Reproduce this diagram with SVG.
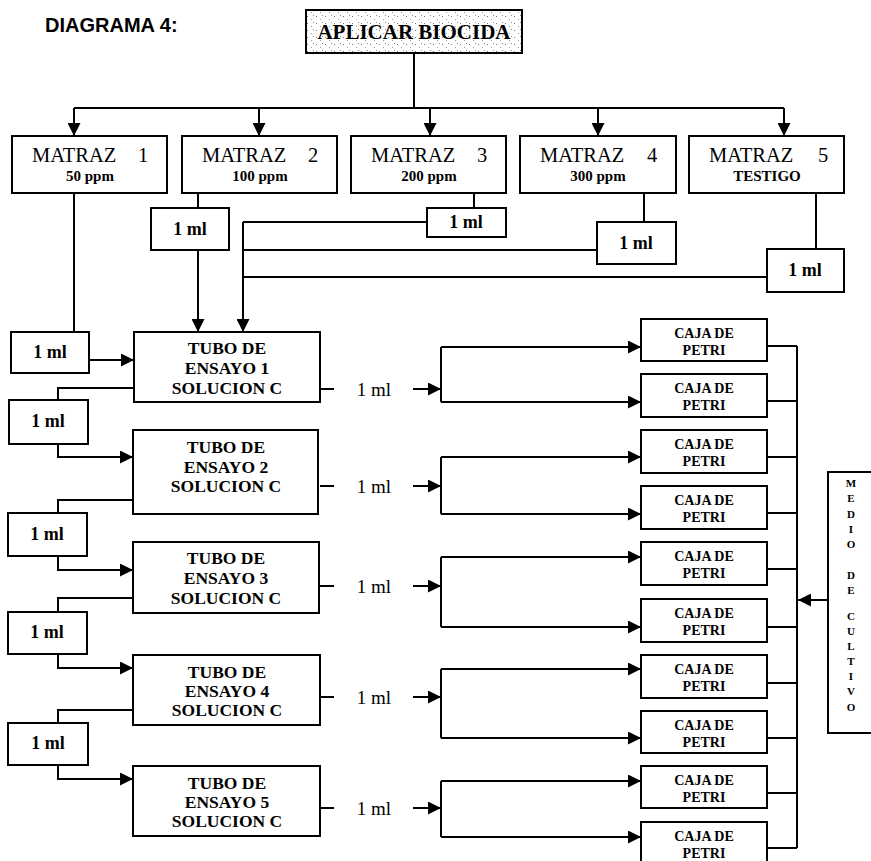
<svg xmlns="http://www.w3.org/2000/svg" width="871" height="861" viewBox="0 0 871 861">
<defs>
<style>
.bx{fill:#fff;stroke:#000;stroke-width:2}
.ln{fill:none;stroke:#000;stroke-width:2}
.t{font-family:"Liberation Serif","Times New Roman",serif;fill:#000}
.mt{font-size:20.5px}
.pp{font-size:15px;font-weight:bold;text-anchor:middle}
.tb{font-size:17.5px;font-weight:bold;text-anchor:middle}
.ml{font-size:18px;font-weight:bold;text-anchor:middle}
.mr{font-size:19px;text-anchor:middle}
.cj{font-size:14px;font-weight:bold;text-anchor:middle}
.vl{font-size:11px;font-weight:bold;text-anchor:middle}
</style>
<marker id="ah" viewBox="0 0 10 10" refX="10" refY="5" markerWidth="6.5" markerHeight="6.5" orient="auto" markerUnits="strokeWidth">
<path d="M0,0 L10,5 L0,10 z" fill="#000"/>
</marker>
<pattern id="spk" width="9" height="7" patternUnits="userSpaceOnUse">
<rect width="9" height="7" fill="#fff"/>
<rect x="1" y="2" width="1" height="1" fill="#777"/>
<rect x="5" y="5" width="1" height="1" fill="#999"/>
<rect x="7" y="1" width="1" height="1" fill="#888"/>
</pattern>
</defs>
<rect width="871" height="861" fill="#fff"/>

<text class="t" x="45" y="32" style="font-family:'Liberation Sans',Arial,sans-serif;font-size:20px;font-weight:bold">DIAGRAMA 4:</text>

<g id="connectors">
<path class="ln" d="M414,53 V108 M74,108 H784"/>
<path class="ln" marker-end="url(#ah)" d="M74,108 V136"/>
<path class="ln" marker-end="url(#ah)" d="M259,108 V136"/>
<path class="ln" marker-end="url(#ah)" d="M430,108 V136"/>
<path class="ln" marker-end="url(#ah)" d="M598,108 V136"/>
<path class="ln" marker-end="url(#ah)" d="M784,108 V136"/>
<path class="ln" d="M74,193 V332"/>
<path class="ln" d="M198,193 V208"/>
<path class="ln" d="M474,193 V208"/>
<path class="ln" d="M644,193 V222"/>
<path class="ln" d="M816,193 V249"/>
<path class="ln" marker-end="url(#ah)" d="M198,250 V332"/>
<path class="ln" marker-end="url(#ah)" d="M243,222 V332"/>
<path class="ln" d="M243,222 H427 M243,250 H597 M243,277 H767"/>
<path class="ln" marker-end="url(#ah)" d="M89,360 H134"/>
<path class="ln" d="M134,388 H58 V400"/>
<path class="ln" marker-end="url(#ah)" d="M58,444 V457 H133"/>
<path class="ln" d="M133,500 H58 V513"/>
<path class="ln" marker-end="url(#ah)" d="M58,556 V570 H133"/>
<path class="ln" d="M133,598 H58 V612"/>
<path class="ln" marker-end="url(#ah)" d="M58,654 V668 H133"/>
<path class="ln" d="M133,710 H58 V723"/>
<path class="ln" marker-end="url(#ah)" d="M58,765 V779 H133"/>

<path class="ln" d="M320,389 H334"/>
<path class="ln" marker-end="url(#ah)" d="M413,389 H441"/>
<path class="ln" d="M441,347 V402"/>
<path class="ln" marker-end="url(#ah)" d="M441,347 H641"/>
<path class="ln" marker-end="url(#ah)" d="M441,402 H641"/>

<path class="ln" d="M320,486 H334"/>
<path class="ln" marker-end="url(#ah)" d="M413,486 H441"/>
<path class="ln" d="M441,457 V514"/>
<path class="ln" marker-end="url(#ah)" d="M441,457 H641"/>
<path class="ln" marker-end="url(#ah)" d="M441,514 H641"/>

<path class="ln" d="M320,586 H334"/>
<path class="ln" marker-end="url(#ah)" d="M413,586 H441"/>
<path class="ln" d="M441,557 V627"/>
<path class="ln" marker-end="url(#ah)" d="M441,557 H641"/>
<path class="ln" marker-end="url(#ah)" d="M441,627 H641"/>

<path class="ln" d="M320,697 H334"/>
<path class="ln" marker-end="url(#ah)" d="M413,697 H441"/>
<path class="ln" d="M441,669 V738"/>
<path class="ln" marker-end="url(#ah)" d="M441,669 H641"/>
<path class="ln" marker-end="url(#ah)" d="M441,738 H641"/>

<path class="ln" d="M320,808 H334"/>
<path class="ln" marker-end="url(#ah)" d="M413,808 H441"/>
<path class="ln" d="M441,781 V837"/>
<path class="ln" marker-end="url(#ah)" d="M441,781 H641"/>
<path class="ln" marker-end="url(#ah)" d="M441,837 H641"/>

<path class="ln" d="M767,346 H797 M767,401 H797 M767,457 H797 M767,513 H797 M767,569 H797 M767,627 H797 M767,683 H797 M767,738 H797 M767,793 H797 M767,848 H797 M797,346 V848"/>
<path class="ln" marker-end="url(#ah)" d="M828,600 H798"/>
</g>

<g id="aplicar">
<rect class="bx" x="306" y="10" width="216" height="43" style="fill:url(#spk)"/>
<text class="t" x="414" y="39" text-anchor="middle" style="font-size:21px;font-weight:bold">APLICAR BIOCIDA</text>
</g>

<g id="matraz1"><rect class="bx" x="12" y="136" width="155" height="57"/><text class="t mt" x="32" y="162">MATRAZ</text><text class="t mt" x="143" y="162" text-anchor="middle">1</text><text class="t pp" x="90" y="181">50 ppm</text></g>
<g id="matraz2"><rect class="bx" x="182" y="136" width="155" height="57"/><text class="t mt" x="202" y="162">MATRAZ</text><text class="t mt" x="313" y="162" text-anchor="middle">2</text><text class="t pp" x="260" y="181">100 ppm</text></g>
<g id="matraz3"><rect class="bx" x="351" y="136" width="155" height="57"/><text class="t mt" x="371" y="162">MATRAZ</text><text class="t mt" x="482" y="162" text-anchor="middle">3</text><text class="t pp" x="429" y="181">200 ppm</text></g>
<g id="matraz4"><rect class="bx" x="520" y="136" width="156" height="57"/><text class="t mt" x="540" y="162">MATRAZ</text><text class="t mt" x="652" y="162" text-anchor="middle">4</text><text class="t pp" x="598" y="181">300 ppm</text></g>
<g id="matraz5"><rect class="bx" x="689" y="136" width="155" height="57"/><text class="t mt" x="709" y="162">MATRAZ</text><text class="t mt" x="823" y="162" text-anchor="middle">5</text><text class="t pp" x="767" y="181">TESTIGO</text></g>

<g id="ml-m2"><rect class="bx" x="151" y="208" width="78" height="42"/><text class="t ml" x="190" y="235">1 ml</text></g>
<g id="ml-m3"><rect class="bx" x="427" y="208" width="79" height="29"/><text class="t ml" x="466" y="228">1 ml</text></g>
<g id="ml-m4"><rect class="bx" x="597" y="222" width="79" height="42"/><text class="t ml" x="636" y="249">1 ml</text></g>
<g id="ml-m5"><rect class="bx" x="767" y="249" width="77" height="43"/><text class="t ml" x="805" y="276">1 ml</text></g>

<g id="ml-a"><rect class="bx" x="11" y="332" width="78" height="41"/><text class="t ml" x="50" y="358">1 ml</text></g>
<g id="ml-b"><rect class="bx" x="9" y="400" width="79" height="44"/><text class="t ml" x="48" y="427">1 ml</text></g>
<g id="ml-c"><rect class="bx" x="8" y="513" width="79" height="43"/><text class="t ml" x="47" y="540">1 ml</text></g>
<g id="ml-d"><rect class="bx" x="8" y="612" width="79" height="42"/><text class="t ml" x="47" y="638">1 ml</text></g>
<g id="ml-e"><rect class="bx" x="8" y="723" width="80" height="42"/><text class="t ml" x="48" y="749">1 ml</text></g>

<g id="tubo1"><rect class="bx" x="134" y="332" width="186" height="70"/><text class="t tb" x="227" y="354">TUBO DE</text><text class="t tb" x="227" y="374">ENSAYO 1</text><text class="t tb" x="227" y="394">SOLUCION C</text></g>
<g id="tubo2"><rect class="bx" x="133" y="430" width="185" height="84"/><text class="t tb" x="226" y="453">TUBO DE</text><text class="t tb" x="226" y="473">ENSAYO 2</text><text class="t tb" x="226" y="492">SOLUCION C</text></g>
<g id="tubo3"><rect class="bx" x="133" y="542" width="186" height="71"/><text class="t tb" x="226" y="564">TUBO DE</text><text class="t tb" x="226" y="584">ENSAYO 3</text><text class="t tb" x="226" y="604">SOLUCION C</text></g>
<g id="tubo4"><rect class="bx" x="133" y="655" width="187" height="70"/><text class="t tb" x="227" y="678">TUBO DE</text><text class="t tb" x="227" y="697">ENSAYO 4</text><text class="t tb" x="227" y="716">SOLUCION C</text></g>
<g id="tubo5"><rect class="bx" x="133" y="766" width="187" height="70"/><text class="t tb" x="227" y="789">TUBO DE</text><text class="t tb" x="227" y="808">ENSAYO 5</text><text class="t tb" x="227" y="827">SOLUCION C</text></g>

<g id="ml-r">
<text class="t mr" x="374" y="396">1 ml</text>
<text class="t mr" x="374" y="493">1 ml</text>
<text class="t mr" x="374" y="593">1 ml</text>
<text class="t mr" x="374" y="704">1 ml</text>
<text class="t mr" x="374" y="815">1 ml</text>
</g>

<g id="petri1"><rect class="bx" x="641" y="319" width="126" height="42"/><text class="t cj" x="704" y="338">CAJA DE</text><text class="t cj" x="704" y="355">PETRI</text></g>
<g id="petri2"><rect class="bx" x="641" y="374" width="126" height="43"/><text class="t cj" x="704" y="393">CAJA DE</text><text class="t cj" x="704" y="410">PETRI</text></g>
<g id="petri3"><rect class="bx" x="641" y="430" width="126" height="43"/><text class="t cj" x="704" y="449">CAJA DE</text><text class="t cj" x="704" y="466">PETRI</text></g>
<g id="petri4"><rect class="bx" x="641" y="486" width="126" height="43"/><text class="t cj" x="704" y="505">CAJA DE</text><text class="t cj" x="704" y="522">PETRI</text></g>
<g id="petri5"><rect class="bx" x="641" y="542" width="126" height="43"/><text class="t cj" x="704" y="561">CAJA DE</text><text class="t cj" x="704" y="578">PETRI</text></g>
<g id="petri6"><rect class="bx" x="641" y="599" width="126" height="43"/><text class="t cj" x="704" y="618">CAJA DE</text><text class="t cj" x="704" y="635">PETRI</text></g>
<g id="petri7"><rect class="bx" x="641" y="655" width="126" height="43"/><text class="t cj" x="704" y="674">CAJA DE</text><text class="t cj" x="704" y="691">PETRI</text></g>
<g id="petri8"><rect class="bx" x="641" y="711" width="126" height="42"/><text class="t cj" x="704" y="730">CAJA DE</text><text class="t cj" x="704" y="747">PETRI</text></g>
<g id="petri9"><rect class="bx" x="641" y="766" width="126" height="42"/><text class="t cj" x="704" y="785">CAJA DE</text><text class="t cj" x="704" y="802">PETRI</text></g>
<g id="petri10"><rect class="bx" x="641" y="822" width="126" height="44"/><text class="t cj" x="704" y="841">CAJA DE</text><text class="t cj" x="704" y="858">PETRI</text></g>

<g id="medio">
<rect class="bx" x="828" y="472" width="50" height="261"/>
<text class="t vl" x="851" y="487">M</text>
<text class="t vl" x="851" y="502">E</text>
<text class="t vl" x="851" y="518">D</text>
<text class="t vl" x="851" y="533">I</text>
<text class="t vl" x="851" y="548">O</text>
<text class="t vl" x="851" y="579">D</text>
<text class="t vl" x="851" y="594">E</text>
<text class="t vl" x="851" y="620">C</text>
<text class="t vl" x="851" y="635">U</text>
<text class="t vl" x="851" y="650">L</text>
<text class="t vl" x="851" y="665">T</text>
<text class="t vl" x="851" y="680">I</text>
<text class="t vl" x="851" y="695">V</text>
<text class="t vl" x="851" y="711">O</text>
</g>
</svg>
